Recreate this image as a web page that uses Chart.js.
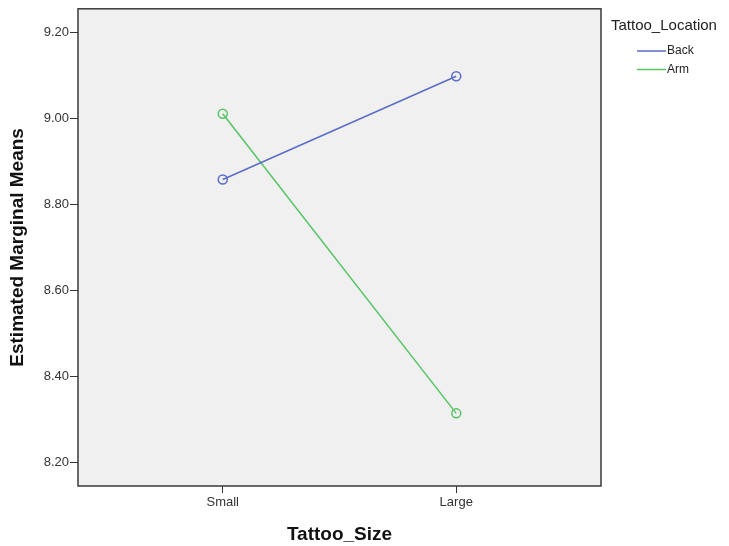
<!DOCTYPE html>
<html>
<head>
<meta charset="utf-8">
<script src="https://cdn.jsdelivr.net/npm/chart.js@4.4.0/dist/chart.umd.min.js"></script>
<style>
  body { margin: 0; background: #fff; }
  #wrap { width: 729px; height: 546px; position: relative; }
</style>
</head>
<body>
<div id="wrap"><canvas id="myChart"></canvas></div>
<script>
"use strict"

// data
let sizes = ['Small', 'Large'];
let backMeans = [8.859, 9.099];
let armMeans = [9.012, 8.315];
let yTicks = [8.20, 8.40, 8.60, 8.80, 9.00, 9.20];
let locations = ['Back', 'Arm'];
let colours = ['#5a6dc6', '#55c463'];

const FONT = '"Liberation Sans", Arial, sans-serif';

function toPoints(vals) {
    return vals.map(function(v, i) { return { x: i + 1, y: v }; });
}

// grey plot area + frame, drawn under the lines
let frame = {
    id: 'frame',
    beforeDraw: function(chart) {
        let a = chart.chartArea;
        let ctx = chart.ctx;
        ctx.save();
        ctx.fillStyle = '#f0f0f0';
        ctx.fillRect(a.left, a.top, a.right - a.left, a.bottom - a.top);
        ctx.strokeStyle = '#3a3a3a';
        ctx.lineWidth = 1.5;
        ctx.strokeRect(a.left, a.top, a.right - a.left, a.bottom - a.top);
        ctx.restore();
    }
};

// legend on the right, SPSS style
let sideLegend = {
    id: 'sideLegend',
    afterDraw: function(chart) {
        let ctx = chart.ctx;
        let a = chart.chartArea;
        ctx.save();
        ctx.fillStyle = '#222';
        ctx.font = '15px ' + FONT;
        ctx.textBaseline = 'middle';
        ctx.fillText('Tattoo_Location', a.right + 10, 26);
        ctx.font = '12px ' + FONT;
        chart.data.datasets.forEach(function(ds, i) {
            let y = 51 + i * 18.5;
            ctx.strokeStyle = ds.borderColor;
            ctx.lineWidth = 1.5;
            ctx.beginPath();
            ctx.moveTo(a.right + 36, y);
            ctx.lineTo(a.right + 65, y);
            ctx.stroke();
            ctx.fillStyle = '#222';
            ctx.fillText(ds.label, a.right + 66, y);
        });
        ctx.restore();
    }
};

let ctx = document.getElementById('myChart').getContext('2d');
let myChart = new Chart(ctx, {
    type: 'line',
    data: {
        datasets: [backMeans, armMeans].map(function(vals, i) {
            return {
                label: locations[i],
                data: toPoints(vals),
                borderColor: colours[i],
                backgroundColor: 'transparent',
                borderWidth: 1.5,
                pointRadius: 4.5,
                pointBorderWidth: 1.5,
                pointBackgroundColor: 'transparent',
                pointBorderColor: colours[i]
            };
        })
    },
    options: {
        responsive: true,
        maintainAspectRatio: false,
        animation: false,
        layout: { padding: { top: 7, right: 128, left: 0, bottom: 0 } },
        plugins: {
            legend: { display: false },
            tooltip: { enabled: false }
        },
        scales: {
            x: {
                type: 'linear',
                min: 0.38,
                max: 2.62,
                afterBuildTicks: function(scale) {
                    scale.ticks = sizes.map(function(s, i) { return { value: i + 1 }; });
                },
                afterFit: function(scale) { scale.height = 60; },
                ticks: {
                    callback: function(v) { return sizes[v - 1]; },
                    color: '#333',
                    font: { family: FONT, size: 13 },
                    padding: 2,
                    maxRotation: 0
                },
                grid: { drawOnChartArea: false, drawTicks: true, tickLength: 7, tickColor: '#333' },
                border: { display: false },
                title: {
                    display: true,
                    text: 'Tattoo_Size',
                    color: '#111',
                    font: { family: FONT, size: 19, weight: 'bold' },
                    padding: { top: 6, bottom: 0 }
                }
            },
            y: {
                min: 8.146,
                max: 9.256,
                afterBuildTicks: function(scale) {
                    scale.ticks = yTicks.map(function(v) { return { value: v }; });
                },
                afterFit: function(scale) { scale.width = 78; },
                ticks: {
                    callback: function(v) { return v.toFixed(2); },
                    color: '#333',
                    font: { family: FONT, size: 13 },
                    padding: 1
                },
                grid: { drawOnChartArea: false, drawTicks: true, tickLength: 8, tickColor: '#333' },
                border: { display: false },
                title: {
                    display: true,
                    text: 'Estimated Marginal Means',
                    color: '#111',
                    font: { family: FONT, size: 19, weight: 'bold' },
                    padding: { top: 6, bottom: 0 }
                }
            }
        }
    },
    plugins: [frame, sideLegend]
});
</script>
</body>
</html>
